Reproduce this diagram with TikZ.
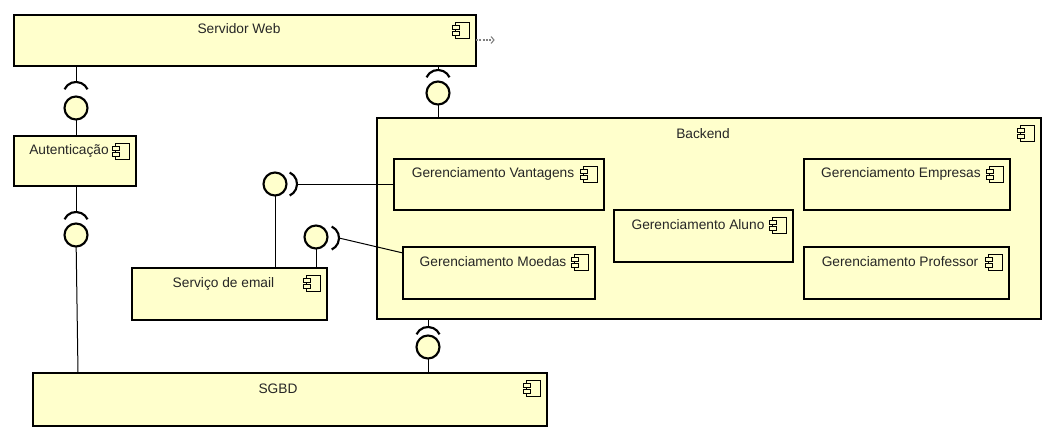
\documentclass[tikz,border=0pt]{standalone}
\usepackage{fontspec}
\setmainfont{Liberation Sans}
\usepackage{xcolor}
\usetikzlibrary{calc}
\definecolor{compfill}{HTML}{FFFFCC}
\tikzset{
  compbox/.style={draw=black, fill=compfill, line width=1.6pt, anchor=north west, inner sep=0pt, outer sep=0pt},
  iconpart/.style={draw=black, fill=compfill, line width=0.65pt},
  ball/.style={circle, draw=black, fill=compfill, line width=1.6pt, minimum size=17.25pt, inner sep=0pt, outer sep=0pt},
  socket/.style={draw=black, line width=1.6pt},
  link/.style={draw=black, line width=0.75pt},
  boxlabel/.style={font=\fontsize{10.3pt}{12pt}\selectfont, anchor=base, inner sep=0pt, text=black!85},
}
% component icon, (#1) is the top right corner of the box
\newcommand{\compicon}[1]{
  \draw[iconpart] ($(#1)+(-21,7)$) rectangle ($(#1)+(-7,23)$);
  \draw[iconpart] ($(#1)+(-24,10)$) rectangle ($(#1)+(-16.5,14)$);
  \draw[iconpart] ($(#1)+(-24,16)$) rectangle ($(#1)+(-16.5,20)$);
}
\begin{document}
\begin{tikzpicture}[x=0.75pt, y=-0.75pt]
\useasboundingbox (0,0) rectangle (1055,432);

% draw components
\node[compbox, minimum width=346.5pt, minimum height=38.25pt] (web) at (14,15) {};
\node[compbox, minimum width=91.5pt, minimum height=37.5pt] (auth) at (14,136) {};
\node[compbox, minimum width=498pt, minimum height=150.75pt] (backend) at (377,118) {};
\node[compbox, minimum width=146.25pt, minimum height=39pt] (email) at (132,268) {};
\node[compbox, minimum width=385.5pt, minimum height=39.75pt] (sgbd) at (33,373) {};
\node[compbox, minimum width=157.5pt, minimum height=38.25pt] (vantagens) at (394,159) {};
\node[compbox, minimum width=144pt, minimum height=39pt] (moedas) at (403,247) {};
\node[compbox, minimum width=134.25pt, minimum height=39pt] (aluno) at (614,210) {};
\node[compbox, minimum width=154.5pt, minimum height=38.25pt] (empresas) at (804,159) {};
\node[compbox, minimum width=153.75pt, minimum height=39pt] (professor) at (804,247) {};

% draw labels
\node[boxlabel] (lweb) at (239,33) {Servidor Web};
\node[boxlabel] (lauth) at (69,154) {Autenticação};
\node[boxlabel] (lback) at (703,138) {Backend};
\node[boxlabel] (lemail) at (223.5,287) {Serviço de email};
\node[boxlabel] (lsgbd) at (278,393) {SGBD};
\node[boxlabel] (lvant) at (493,177) {Gerenciamento Vantagens};
\node[boxlabel] (lmoed) at (493,266) {Gerenciamento Moedas};
\node[boxlabel] (lalun) at (698,229) {Gerenciamento Aluno};
\node[boxlabel] (lempr) at (901,177) {Gerenciamento Empresas};
\node[boxlabel] (lprof) at (900,266) {Gerenciamento Professor};

% draw icons
\foreach \n in {web, auth, backend, email, sgbd, vantagens, moedas, aluno, empresas, professor} {
  \compicon{\n.north east}
}

% draw interfaces
\node[ball] (ballauth) at (76,108) {};
\node[ball] (balldb) at (76,235) {};
\node[ball] (ballweb) at (438,93) {};
\node[ball] (ballvant) at (275,184) {};
\node[ball] (ballmoed) at (316,237) {};
\node[ball] (ballback) at (428,347) {};

% draw sockets
\coordinate (sockauth) at (76,82);
\coordinate (sockdb) at (76,212);
\coordinate (sockweb) at (438,70);
\coordinate (sockvant) at (297,184);
\coordinate (sockmoed) at (339,238);
\coordinate (sockback) at (428,327);
\foreach \s in {sockauth, sockdb, sockweb, sockback} {
  \draw[socket] ($(\s)+(-11.5,7.3)$) arc [radius=12.7, start angle=-155, end angle=-25];
}
\foreach \s in {sockvant, sockmoed} {
  \draw[socket] ($(\s)+(-7.3,-11.5)$) arc [radius=12.7, start angle=-65, end angle=65];
}

% draw connections
\coordinate (moedport) at (403,253);
\coordinate (dbport) at (78,373);
\draw[link] (sockauth) -- (sockauth |- web.south);
\draw[link] (ballauth) -- (ballauth |- auth.north);
\draw[link] (sockdb) -- (sockdb |- auth.south);
\draw[link] (balldb) -- (dbport);
\draw[link] (sockweb) -- (sockweb |- web.south);
\draw[link] (ballweb) -- (ballweb |- backend.north);
\draw[link] (ballvant) -- (ballvant |- email.north);
\draw[link] (ballmoed) -- (ballmoed |- email.north);
\draw[link] (sockvant) -- (sockvant -| vantagens.west);
\draw[link] (sockmoed) -- (moedport);
\draw[link] (sockback) -- (sockback |- backend.south);
\draw[link] (ballback) -- (ballback |- sgbd.north);

% draw dotted stub
\coordinate (stub) at (494,40);
\draw[gray, line width=1.5pt, densely dotted] (web.east |- stub) -- (stub);
\draw[gray, line width=0.8pt] (491,36.5) -- (stub) -- (491,43.5);

\end{tikzpicture}
\end{document}
